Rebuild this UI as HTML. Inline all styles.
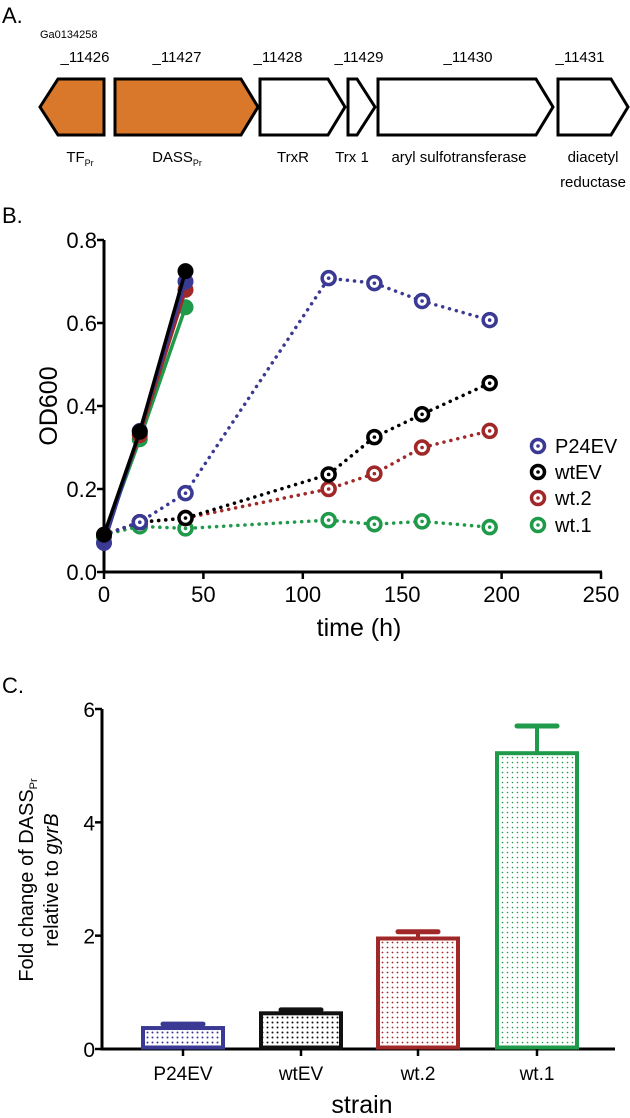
<!DOCTYPE html>
<html><head><meta charset="utf-8">
<style>
body{margin:0;background:#fff;}
svg{display:block;font-family:"Liberation Sans",Arial,sans-serif;}
</style></head>
<body>
<svg id="fig" width="630" height="1118" viewBox="0 0 630 1118" xmlns="http://www.w3.org/2000/svg">
<defs>
<pattern id="dots-blue" width="5" height="5" patternUnits="userSpaceOnUse"><circle cx="2.5" cy="2.5" r="1" fill="#3a3a94"/></pattern>
<pattern id="dots-black" width="5" height="5" patternUnits="userSpaceOnUse"><circle cx="2.5" cy="2.5" r="1" fill="#111"/></pattern>
<pattern id="dots-red" width="5" height="5" patternUnits="userSpaceOnUse"><circle cx="2.5" cy="2.5" r="0.9" fill="#a02828"/></pattern>
<pattern id="dots-green" width="5" height="5" patternUnits="userSpaceOnUse"><circle cx="2.5" cy="2.5" r="0.8" fill="#1f9a4a"/></pattern>
</defs>

<!-- Panel A -->
<g>
<text x="2" y="23" font-size="22">A.</text>
<text x="40" y="38" font-size="11">Ga0134258</text>
<g font-size="15" text-anchor="middle">
<text x="85" y="62">_11426</text>
<text x="177" y="62">_11427</text>
<text x="278" y="62">_11428</text>
<text x="359" y="62">_11429</text>
<text x="468" y="62">_11430</text>
<text x="580" y="62">_11431</text>
</g>
<g stroke="#000" stroke-width="3" stroke-linejoin="miter">
<polygon points="104,79 58,79 40,107 58,135 104,135" fill="#d9772a"/>
<polygon points="115,79 241,79 258,107 241,135 115,135" fill="#d9772a"/>
<polygon points="260,79 328,79 345,107 328,135 260,135" fill="#fff"/>
<polygon points="348,79 357,79 375,107 357,135 348,135" fill="#fff"/>
<polygon points="378,79 536,79 553,107 536,135 378,135" fill="#fff"/>
<polygon points="558,79 611,79 628,107 611,135 558,135" fill="#fff"/>
</g>
<g font-size="15" text-anchor="middle">
<text x="80" y="162">TF<tspan font-size="9" dy="4">Pr</tspan></text>
<text x="177" y="162">DASS<tspan font-size="9" dy="4">Pr</tspan></text>
<text x="293" y="162">TrxR</text>
<text x="352" y="162">Trx 1</text>
<text x="459" y="162">aryl sulfotransferase</text>
<text x="593" y="162">diacetyl</text>
<text x="593" y="187">reductase</text>
</g>
</g>

<text x="2" y="223" font-size="22">B.</text>
<g id="panelB"></g>
<text x="2" y="693" font-size="22">C.</text>
<g id="panelC"></g>
</svg>

<script>
// ---- Panel B data ----
const bTimesDotted = [0, 18, 41, 113, 136, 160, 194];
const bTimesSolid = [0, 18, 41];
const bSeriesNames = ["P24EV", "wtEV", "wt.2", "wt.1"];
const bP24EVDotted = [0.09, 0.12, 0.19, 0.708, 0.696, 0.653, 0.607];
const bWtEVDotted = [0.09, 0.12, 0.13, 0.235, 0.325, 0.38, 0.455];
const bWt2Dotted = [0.09, 0.12, 0.13, 0.20, 0.237, 0.30, 0.34];
const bWt1Dotted = [0.09, 0.11, 0.105, 0.125, 0.115, 0.122, 0.108];
const bP24EVSolid = [0.07, 0.34, 0.70];
const bWtEVSolid = [0.09, 0.338, 0.725];
const bWt2Solid = [0.09, 0.33, 0.68];
const bWt1Solid = [0.085, 0.32, 0.638];
const bYTicks = [0, 0.2, 0.4, 0.6, 0.8];
const bYTickLabels = ["0.0", "0.2", "0.4", "0.6", "0.8"];
const bXTicks = [0, 50, 100, 150, 200, 250];

// ---- Panel C data ----
const cCategories = ["P24EV", "wtEV", "wt.2", "wt.1"];
const cValues = [0.37, 0.63, 1.95, 5.22];
const cErrors = [0.07, 0.06, 0.12, 0.48];
const cYTicks = [0, 2, 4, 6];

const NS = "http://www.w3.org/2000/svg";
function mk(parent, tag, attrs, text) {
  const e = document.createElementNS(NS, tag);
  for (const k in attrs) e.setAttribute(k, attrs[k]);
  if (text !== undefined) e.textContent = text;
  parent.appendChild(e);
  return e;
}

// Panel B
(function(){
  const g = document.getElementById("panelB");
  const x = t => 104 + (t / 250) * 497;
  const y = v => 572 - (v / 0.8) * 332;
  const colors = ["#3a3a94", "#000000", "#a02828", "#1f9a4a"];
  const dotted = [bP24EVDotted, bWtEVDotted, bWt2Dotted, bWt1Dotted];
  const solid = [bP24EVSolid, bWtEVSolid, bWt2Solid, bWt1Solid];

  let e = mk(g, "line", {x1: x(0), y1: y(0.8), x2: x(0), y2: y(0)+1.5, stroke: "#000", "stroke-width": 3});
  
  
  e = mk(g, "line", {x1: x(0)-1.5, y1: y(0), x2: x(250)+1, y2: y(0), stroke: "#000", "stroke-width": 3});
  
  
  bYTicks.forEach((v, i) => {
    const t = mk(g, "line", {x1: x(0)-7, y1: y(v), x2: x(0), y2: y(v), stroke: "#000", "stroke-width": 2.5});
    
    
    const l = mk(g, "text", {x: x(0)-7, y: y(v)+8, "font-size": 22, "text-anchor": "end"}, bYTickLabels[i]);
    
    
  });
  bXTicks.forEach(v => {
    const t = mk(g, "line", {x1: x(v), y1: y(0), x2: x(v), y2: y(0)+7, stroke: "#000", "stroke-width": 2.5});
    
    
    const l = mk(g, "text", {x: x(v), y: y(0)+30, "font-size": 22, "text-anchor": "middle"}, String(v));
    
    
  });
  e = mk(g, "text", {x: 359, y: 636, "font-size": 25, "text-anchor": "middle"}, "time (h)");
  
  
  e = mk(g, "text", {x: 0, y: 0, "font-size": 25, "text-anchor": "middle", transform: "translate(57,406) rotate(-90)"}, "OD600");
  
  

  for (let s = 3; s >= 0; s--) {
    const pts = bTimesDotted.map((t, i) => x(t) + "," + y(dotted[s][i])).join(" ");
    const p = mk(g, "polyline", {points: pts, fill: "none", stroke: colors[s], "stroke-width": 3.5, "stroke-dasharray": "0.1 7", "stroke-linecap": "round"});
    
    
    bTimesDotted.forEach((t, i) => {
      if (i === 0) return;
      const c = mk(g, "circle", {cx: x(t), cy: y(dotted[s][i]), r: 6.5, fill: "#fff", stroke: colors[s], "stroke-width": 3.5});
      
      
      const d = mk(g, "circle", {cx: x(t), cy: y(dotted[s][i]), r: 1.8, fill: colors[s]});
      
      
    });
  }
  [3, 2, 0, 1].forEach(s => {
    const pts = bTimesSolid.map((t, i) => x(t) + "," + y(solid[s][i])).join(" ");
    const p = mk(g, "polyline", {points: pts, fill: "none", stroke: colors[s], "stroke-width": 3.5});
    
    
    bTimesSolid.forEach((t, i) => {
      const c = mk(g, "circle", {cx: x(t), cy: y(solid[s][i]), r: 8, fill: colors[s]});
      
      
    });
  });
  const ly = [446, 472, 498, 525];
  bSeriesNames.forEach((n, s) => {
    const c = mk(g, "circle", {cx: 538, cy: ly[s], r: 6.5, fill: "#fff", stroke: colors[s], "stroke-width": 3.5});
    
    
    const d = mk(g, "circle", {cx: 538, cy: ly[s], r: 1.8, fill: colors[s]});
    
    
    const t = mk(g, "text", {x: 555, y: ly[s] + 7, "font-size": 20}, n);
    
    
  });
})();

// Panel C
(function(){
  const g = document.getElementById("panelC");
  const y = v => 1049 - (v / 6) * 340;
  const centers = [183, 301, 418, 537];
  const bw = 80;
  const colors = ["#3a3a94", "#111111", "#a02828", "#1f9a4a"];
  const fills = ["url(#dots-blue)", "url(#dots-black)", "url(#dots-red)", "url(#dots-green)"];

  let e = mk(g, "line", {x1: 102, y1: y(6), x2: 102, y2: y(0)+1.5, stroke: "#000", "stroke-width": 3});
  
  
  e = mk(g, "line", {x1: 100.5, y1: y(0), x2: 615, y2: y(0), stroke: "#000", "stroke-width": 3});
  
  
  cYTicks.forEach(v => {
    const t = mk(g, "line", {x1: 95, y1: y(v), x2: 102, y2: y(v), stroke: "#000", "stroke-width": 2.5});
    
    
    const l = mk(g, "text", {x: 95, y: y(v) + 8, "font-size": 21, "text-anchor": "end"}, String(v));
    
    
  });
  cCategories.forEach((c, i) => {
    const cx = centers[i];
    const eb = mk(g, "line", {x1: cx, y1: y(cValues[i]), x2: cx, y2: y(cValues[i] + cErrors[i]), stroke: colors[i], "stroke-width": 4});
    
    
    const cap = mk(g, "line", {x1: cx - 20, y1: y(cValues[i] + cErrors[i]), x2: cx + 20, y2: y(cValues[i] + cErrors[i]), stroke: colors[i], "stroke-width": 5, "stroke-linecap": "round"});
    
    
    const r = mk(g, "rect", {x: cx - bw/2, y: y(cValues[i]), width: bw, height: y(0) - y(cValues[i]) - 1.5, fill: "#fff", stroke: colors[i], "stroke-width": 4});
    
    
    const r2 = mk(g, "rect", {x: cx - bw/2 + 2, y: y(cValues[i]) + 2, width: bw - 4, height: Math.max(0, y(0) - y(cValues[i]) - 5), fill: fills[i]});
    
    
    const t = mk(g, "line", {x1: cx, y1: y(0), x2: cx, y2: y(0) + 7, stroke: "#000", "stroke-width": 2.5});
    
    
    const l = mk(g, "text", {x: cx, y: 1080, "font-size": 19, "text-anchor": "middle"}, c);
    
    
  });
  e = mk(g, "text", {x: 362, y: 1113, "font-size": 25, "text-anchor": "middle"}, "strain");
  
  
  const t1 = mk(g, "text", {x: 0, y: 0, "font-size": 20, "text-anchor": "middle", transform: "translate(33,880) rotate(-90)"});
  
  
  t1.appendChild(document.createTextNode("Fold change of DASS"));
  const sub = mk(t1, "tspan", {"font-size": 11, dy: 4}, "Pr");
  
  
  const t2 = mk(g, "text", {x: 0, y: 0, "font-size": 20, "text-anchor": "middle", transform: "translate(58,880) rotate(-90)"}, "relative to ");
  
  
  const it = mk(t2, "tspan", {"font-style": "italic"}, "gyrB");
  
  
})();
</script>
</body></html>
